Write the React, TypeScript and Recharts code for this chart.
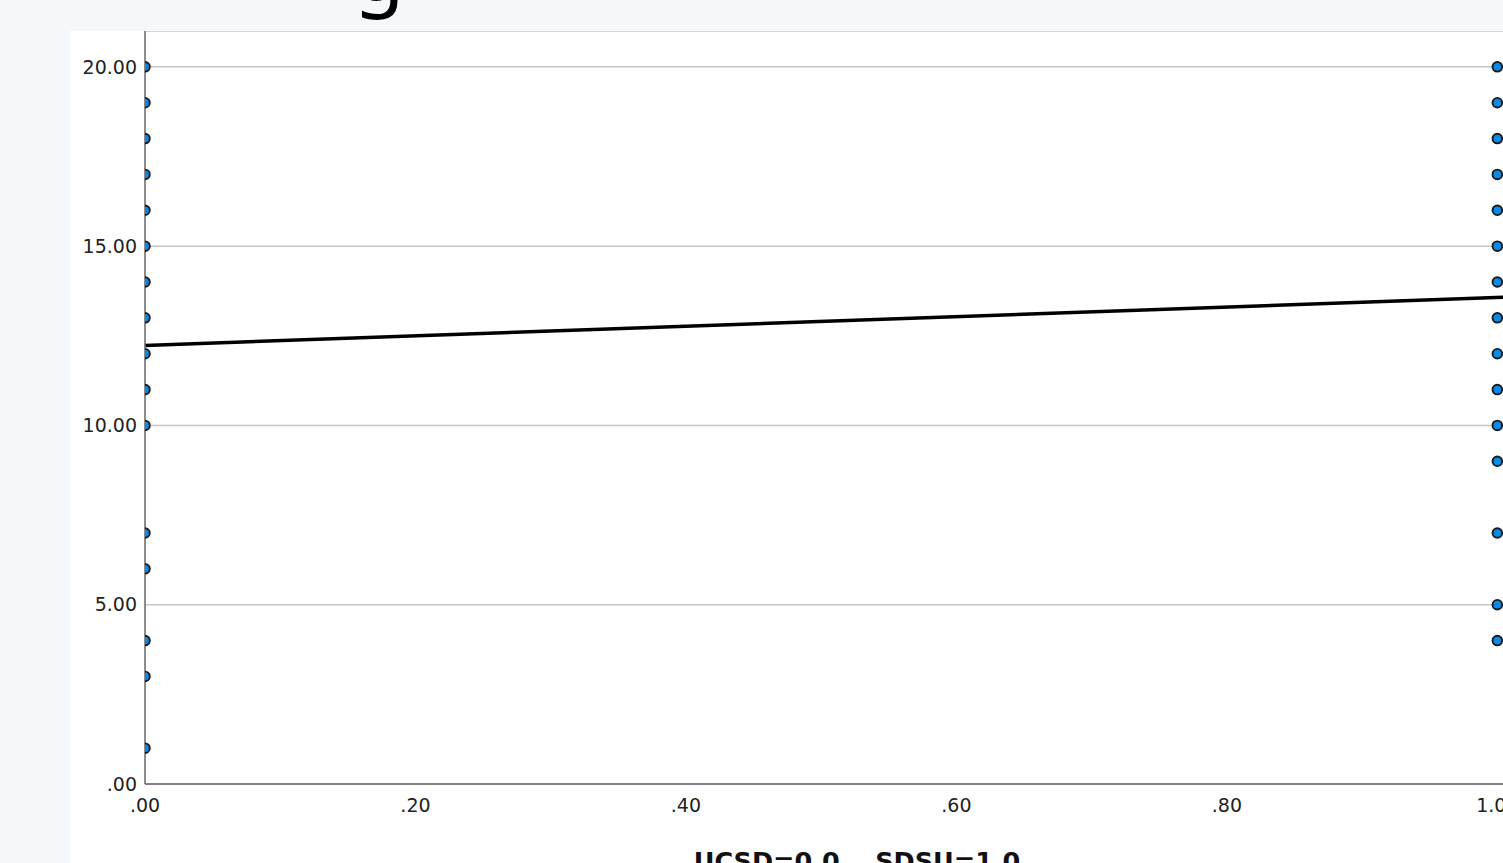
import React from 'react';
import {
  ScatterChart,
  Scatter,
  XAxis,
  YAxis,
  CartesianGrid,
  ReferenceLine,
} from 'recharts';

// Campus coding: UCSD = 0, SDSU = 1
const ucsdX = 0;
const sdsuX = 1;

// Observed scores for each campus
const ucsdScores = [20, 19, 18, 17, 16, 15, 14, 13, 12, 11, 10, 7, 6, 4, 3, 1];
const sdsuScores = [20, 19, 18, 17, 16, 15, 14, 13, 12, 11, 10, 9, 7, 5, 4];

// Fit line at total
const fitIntercept = 12.23;
const fitSlope = 1.34;

// Axis settings
const xTicks = [0, 0.2, 0.4, 0.6, 0.8, 1];
const yTicks = [0, 5, 10, 15, 20];
const xDomain: [number, number] = [0, 1.053];
const yDomain: [number, number] = [0, 21];

const points = [
  ...ucsdScores.map((y) => ({ x: ucsdX, y })),
  ...sdsuScores.map((y) => ({ x: sdsuX, y })),
];

const fmtX = (v: number) => (v >= 1 ? v.toFixed(2) : '.' + Math.round(v * 100).toString().padStart(2, '0'));
const fmtY = (v: number) => (v === 0 ? '.00' : v.toFixed(2));

const tickStyle = { fontFamily: 'DejaVu Sans', fontSize: 19, fill: '#222' };

const Dot = (props: any) => {
  const { cx, cy } = props;
  return <circle cx={cx} cy={cy} r={4.8} fill="#0a8ae6" stroke="#1a1a1a" strokeWidth={1.9} />;
};

const AxisTitle = (props: any) => {
  const { viewBox } = props;
  const { x, y, width } = viewBox;
  return (
    <text
      x={x + width / 2}
      y={y + 86}
      textAnchor="middle"
      fontFamily="DejaVu Sans"
      fontWeight="bold"
      fontSize={25.5}
      fill="#111"
    >
      {'UCSD=0.0\u00A0\u00A0\u00A0\u00A0SDSU=1.0'}
    </text>
  );
};

export default function App() {
  return (
    <div
      style={{
        position: 'fixed',
        left: 0,
        top: 0,
        width: 1503,
        height: 863,
        overflow: 'hidden',
        background: '#f5f8fb',
      }}
    >
      <svg
        width={1503}
        height={40}
        style={{ position: 'absolute', left: 0, top: 0 }}
      >
        <text x={354} y={0} fontFamily="Noto Sans" fontSize={82} fill="#000">
          g
        </text>
      </svg>
      <div
        style={{
          position: 'absolute',
          left: 70,
          top: 31,
          width: 1600,
          height: 860,
          background: '#ffffff',
        }}
      >
        <ScatterChart
          width={1530}
          height={860}
          margin={{ top: 0, right: 31, bottom: 0, left: 0 }}
        >
          <CartesianGrid vertical={false} stroke="#c6c6c6" strokeWidth={1.5} />
          <XAxis
            type="number"
            dataKey="x"
            domain={xDomain}
            ticks={xTicks}
            tickFormatter={fmtX}
            allowDataOverflow
            height={107}
            tickLine={false}
            tickSize={0}
            tickMargin={15}
            tick={tickStyle}
            axisLine={{ stroke: '#666', strokeWidth: 1.5 }}
            label={<AxisTitle />}
          />
          <YAxis
            type="number"
            dataKey="y"
            domain={yDomain}
            ticks={yTicks}
            tickFormatter={fmtY}
            width={75}
            tickLine={false}
            tickSize={0}
            tickMargin={8}
            tick={tickStyle}
            axisLine={{ stroke: '#666', strokeWidth: 1.5 }}
          />
          <ReferenceLine
            segment={[
              { x: xDomain[0], y: fitIntercept + fitSlope * xDomain[0] },
              { x: xDomain[1], y: fitIntercept + fitSlope * xDomain[1] },
            ]}
            stroke="#000"
            strokeWidth={3.5}
          />
          <Scatter data={points} shape={<Dot />} isAnimationActive={false} />
        </ScatterChart>
      </div>
    </div>
  );
}
